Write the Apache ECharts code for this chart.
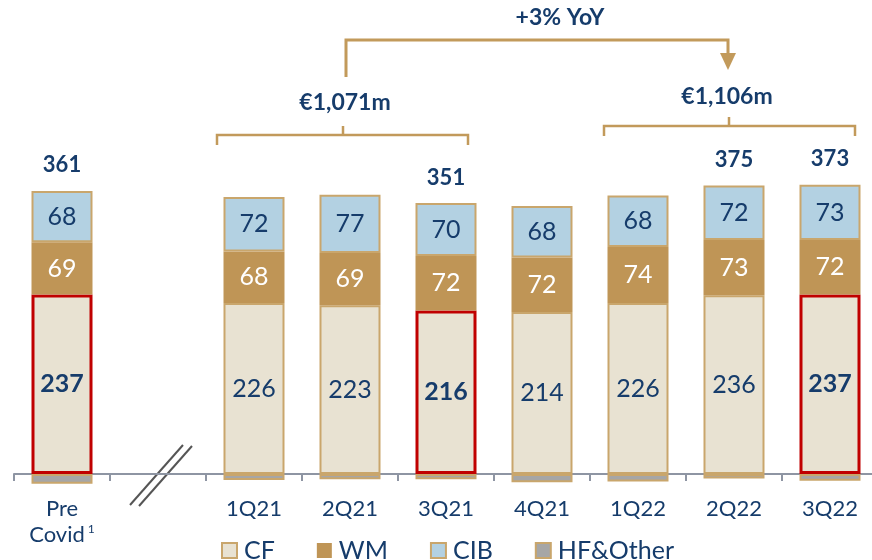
<!DOCTYPE html>
<html>
<head>
<meta charset="utf-8">
<script src="https://cdn.jsdelivr.net/npm/echarts@6/dist/echarts.min.js"></script>
<style>
html,body{margin:0;padding:0;background:#fff;}
#c{width:872px;height:560px;}
</style>
</head>
<body>
<div id="c"></div>
<script>
// ---- data ----
const categories = ['Pre Covid', '', '1Q21', '2Q21', '3Q21', '4Q21', '1Q22', '2Q22', '3Q22'];
const cf  = [237, null, 226, 223, 216, 214, 226, 236, 237];
const wm  = [69,  null, 68,  69,  72,  72,  74,  73,  72];
const cib = [68,  null, 72,  77,  70,  68,  68,  72,  73];
const hf  = [-13, null, -8,  -7,  -7,  -11, -10, -6,  -9];
const totals = [361, null, null, null, 351, null, null, 375, 373];
const highlighted = [0, 4, 8];
const periodLabels = ['€1,071m', '€1,106m'];
const growthLabel = '+3% YoY';

// ---- styles ----
const FONT = 'Lato';
const NAVY = '#163C6B';
const TAN = '#C29A5B';
const BORDER = '#C9A66C';
const RED = '#C00000';
const C_CF = '#E8E2D2', C_WM = '#BF9556', C_CIB = '#B3D1E2', C_HF = '#A6A6A6';

const chart = echarts.init(document.getElementById('c'));

function segData(arr, isCF) {
  return arr.map((v, i) => {
    if (v == null) return null;
    const o = { value: v };
    if (isCF && highlighted.includes(i)) {
      o.itemStyle = { borderColor: RED, borderWidth: 3 };
      o.label = { fontWeight: 'bold' };
    }
    return o;
  });
}

const totalPoints = totals.map((t, i) => t == null ? null : { value: cf[i] + wm[i] + cib[i], label: { formatter: String(t) } });

const PX = 0.757;
const YMIN = -16, YMAX = 600;
const option = {
  animation: false,
  textStyle: { fontFamily: FONT },
  grid: { left: 14, width: 864, top: 474 - YMAX * PX, height: (YMAX - YMIN) * PX, outerBoundsMode: 'none', containLabel: false },
  legend: {
    left: 216, top: 533,
    itemWidth: 15, itemHeight: 15, itemGap: 42,
    icon: 'rect',
    textStyle: { fontFamily: FONT, fontSize: 25, color: NAVY, padding: [0, 0, 0, 2] },
    data: [
      { name: 'CF', itemStyle: { color: C_CF, borderColor: BORDER, borderWidth: 2 } },
      { name: 'WM', itemStyle: { color: C_WM, borderColor: C_WM, borderWidth: 0 } },
      { name: 'CIB', itemStyle: { color: C_CIB, borderColor: BORDER, borderWidth: 2 } },
      { name: 'HF&Other', itemStyle: { color: C_HF, borderColor: BORDER, borderWidth: 2 } }
    ]
  },
  xAxis: {
    type: 'category',
    data: categories,
    axisLine: { onZero: true, lineStyle: { color: '#8E95A3', width: 2 } },
    axisTick: { show: true, length: 7, lineStyle: { color: '#8E95A3', width: 2 } },
    axisLabel: {
      margin: 10,
      interval: 0,
      color: NAVY,
      fontFamily: FONT,
      fontSize: 22,
      lineHeight: 26,
      formatter: function (v, i) {
        if (i === 0) return '{a|Pre}\n{a|Covid}{s|1}';
        return v;
      },
      rich: {
        a: { fontFamily: FONT, fontSize: 22, color: NAVY, lineHeight: 26 },
        s: { fontFamily: FONT, fontSize: 12, color: NAVY, padding: [0, 0, 12, 3] }
      }
    }
  },
  yAxis: { type: 'value', min: YMIN, max: YMAX, show: false, splitLine: { show: false } },
  series: [
    {
      name: 'HF&Other', type: 'bar', stack: 'total', barWidth: 61,
      data: segData(hf, false),
      itemStyle: { color: C_HF, borderColor: BORDER, borderWidth: 2 },
      label: { show: false }
    },
    {
      name: 'CF', type: 'bar', stack: 'total', barWidth: 61,
      data: segData(cf, true),
      itemStyle: { color: C_CF, borderColor: BORDER, borderWidth: 2 },
      label: { show: true, position: 'inside', color: NAVY, fontFamily: FONT, fontSize: 25 }
    },
    {
      name: 'WM', type: 'bar', stack: 'total', barWidth: 61,
      data: segData(wm, false),
      itemStyle: { color: C_WM, borderColor: C_WM, borderWidth: 0 },
      label: { show: true, position: 'inside', color: '#FFFFFF', fontFamily: FONT, fontSize: 25 }
    },
    {
      name: 'CIB', type: 'bar', stack: 'total', barWidth: 61,
      data: segData(cib, false),
      itemStyle: { color: C_CIB, borderColor: BORDER, borderWidth: 2 },
      label: { show: true, position: 'inside', color: NAVY, fontFamily: FONT, fontSize: 25 }
    },
    {
      name: 'total', type: 'scatter', symbolSize: 1, silent: true,
      itemStyle: { opacity: 1, color: 'rgba(0,0,0,0)' },
      data: totalPoints,
      label: { show: true, position: 'top', distance: 14, color: NAVY, opacity: 1, fontFamily: FONT, fontSize: 22, fontWeight: 'bold' }
    }
  ]
};
chart.setOption(option);

// ---- annotations anchored to category positions ----
function cx(i) { return chart.convertToPixel({ xAxisIndex: 0 }, categories[i]); }
function yv(v) { return chart.convertToPixel({ yAxisIndex: 0 }, v); }
const x1 = cx(1), x2 = cx(2), x3 = cx(3), x4 = cx(4), x6 = cx(6), x7 = cx(7), x8 = cx(8);
const y0 = yv(0);
const lineStyle = { stroke: TAN, lineWidth: 2.5, fill: null };
const b1y = 135, b2y = 126;
const b1L = x2 - 37, b1R = x4 + 22, b1C = x3 - 7;
const b2L = x6 - 34, b2R = x8 + 25, b2C = x7 - 5;
const graphics = [
  // axis break marks
  { type: 'line', shape: { x1: x1 - 28, y1: y0 + 31, x2: x1 + 25, y2: y0 - 29 }, style: { stroke: '#555', lineWidth: 2 } },
  { type: 'line', shape: { x1: x1 - 19, y1: y0 + 32, x2: x1 + 34, y2: y0 - 28 }, style: { stroke: '#555', lineWidth: 2 } },
  // bracket 1
  { type: 'polyline', shape: { points: [[b1L, b1y + 10], [b1L, b1y], [b1R, b1y], [b1R, b1y + 10]] }, style: lineStyle },
  { type: 'line', shape: { x1: b1C, y1: b1y, x2: b1C, y2: b1y - 9 }, style: lineStyle },
  // bracket 2
  { type: 'polyline', shape: { points: [[b2L, b2y + 10], [b2L, b2y], [b2R, b2y], [b2R, b2y + 10]] }, style: lineStyle },
  { type: 'line', shape: { x1: b2C, y1: b2y, x2: b2C, y2: b2y - 9 }, style: lineStyle },
  // growth arrow
  { type: 'polyline', shape: { points: [[b1C + 3, 77], [b1C + 3, 40], [b2C - 1, 40], [b2C - 1, 56]] }, style: { stroke: TAN, lineWidth: 3, fill: null } },
  { type: 'polygon', shape: { points: [[b2C - 9, 53], [b2C + 7, 53], [b2C - 1, 70]] }, style: { fill: TAN } },
  // texts
  { type: 'text', x: b1C + 2, y: 103, style: { text: periodLabels[0], fill: NAVY, font: 'bold 23px ' + FONT, align: 'center', verticalAlign: 'middle' } },
  { type: 'text', x: b2C - 2, y: 97, style: { text: periodLabels[1], fill: NAVY, font: 'bold 23px ' + FONT, align: 'center', verticalAlign: 'middle' } },
  { type: 'text', x: 560, y: 18, style: { text: growthLabel, fill: NAVY, font: 'bold 23px ' + FONT, align: 'center', verticalAlign: 'middle' } }
];
chart.setOption({ graphic: graphics });
</script>
</body>
</html>
